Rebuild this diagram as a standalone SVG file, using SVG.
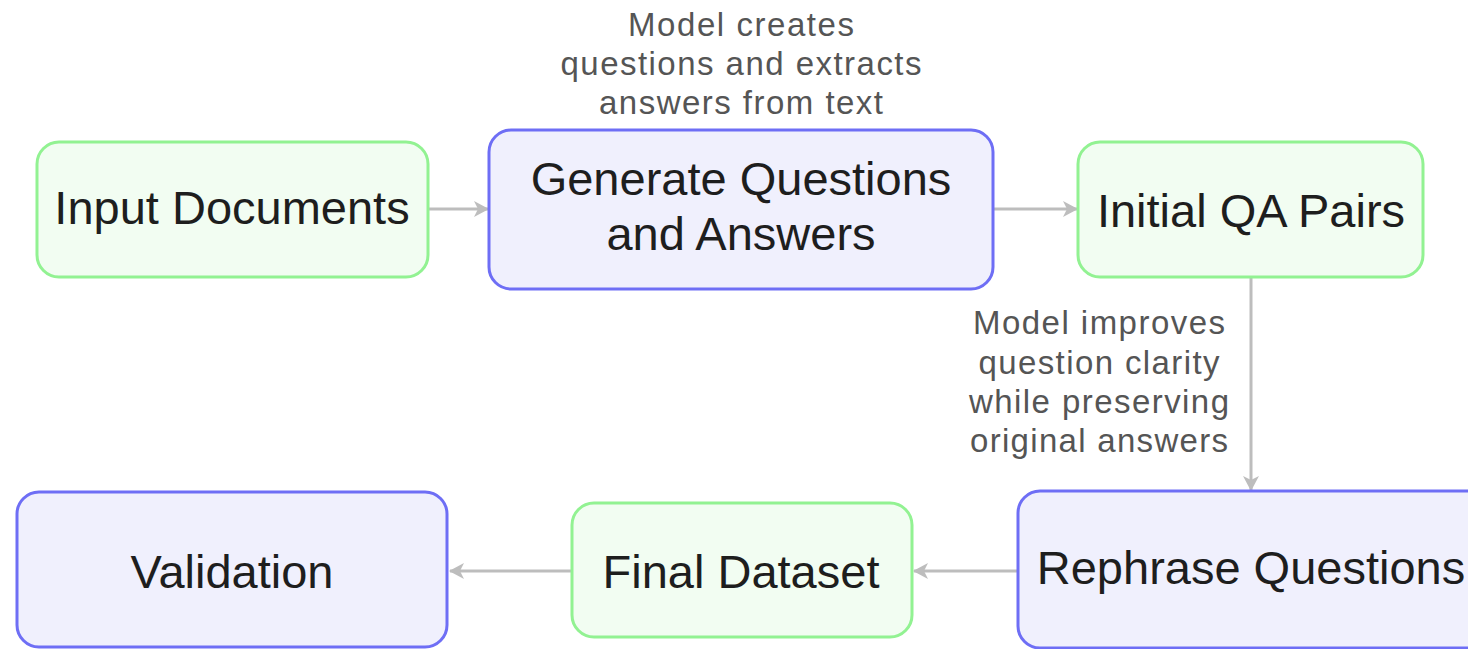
<svg xmlns="http://www.w3.org/2000/svg" width="1468" height="649" viewBox="0 0 1468 649">
<defs>
<style>
.green{fill:#f2fdf2;stroke:#92f292;stroke-width:3}
.blue{fill:#f0f0fd;stroke:#6e6ef5;stroke-width:3}
.nt{font-family:"Liberation Sans",Arial,sans-serif;font-size:47px;fill:#1e1e1e;text-anchor:middle}
.lt{font-family:"Liberation Sans",Arial,sans-serif;font-size:33px;fill:#555555;text-anchor:middle}
.edge{stroke:#bdbdbd;stroke-width:3;fill:none}
</style>
<marker id="ah" markerUnits="userSpaceOnUse" markerWidth="20" markerHeight="20" refX="14" refY="9" orient="auto">
<path d="M0,1 L15,9 L0,17 L4,9 Z" fill="#bdbdbd"/>
</marker>
</defs>
<g id="connectors">
<path class="edge" d="M428,209 L488,209" marker-end="url(#ah)"/>
<path class="edge" d="M993,209 L1077,209" marker-end="url(#ah)"/>
<path class="edge" d="M1251,277 L1251,490" marker-end="url(#ah)"/>
<path class="edge" d="M1018,571 L914,571" marker-end="url(#ah)"/>
<path class="edge" d="M572,571 L450,571" marker-end="url(#ah)"/>
</g>
<g id="label-generate">
<text class="lt" x="741" y="36" textLength="226" lengthAdjust="spacing">Model creates</text>
<text class="lt" x="741" y="75" textLength="361" lengthAdjust="spacing">questions and extracts</text>
<text class="lt" x="741" y="114" textLength="284" lengthAdjust="spacing">answers from text</text>
</g>
<g id="label-rephrase">
<text class="lt" x="1099" y="334" textLength="252" lengthAdjust="spacing">Model improves</text>
<text class="lt" x="1099" y="374" textLength="241" lengthAdjust="spacing">question clarity</text>
<text class="lt" x="1099" y="413" textLength="260" lengthAdjust="spacing">while preserving</text>
<text class="lt" x="1099" y="452" textLength="258" lengthAdjust="spacing">original answers</text>
</g>
<g id="node-input">
<rect class="green" x="37" y="142" width="391" height="135" rx="22"/>
<text class="nt" x="232" y="224">Input Documents</text>
</g>
<g id="node-generate">
<rect class="blue" x="489" y="130" width="504" height="159" rx="22"/>
<text class="nt" x="741" y="195">Generate Questions</text>
<text class="nt" x="741" y="250">and Answers</text>
</g>
<g id="node-initial">
<rect class="green" x="1078" y="142" width="345" height="135" rx="22"/>
<text class="nt" x="1251" y="227">Initial QA Pairs</text>
</g>
<g id="node-rephrase">
<rect class="blue" x="1018" y="491" width="504" height="157" rx="22"/>
<text class="nt" x="1251" y="584">Rephrase Questions</text>
</g>
<g id="node-final">
<rect class="green" x="572" y="503" width="340" height="134" rx="22"/>
<text class="nt" x="741" y="588">Final Dataset</text>
</g>
<g id="node-validation">
<rect class="blue" x="17" y="492" width="430" height="155" rx="22"/>
<text class="nt" x="232" y="588">Validation</text>
</g>
</svg>
